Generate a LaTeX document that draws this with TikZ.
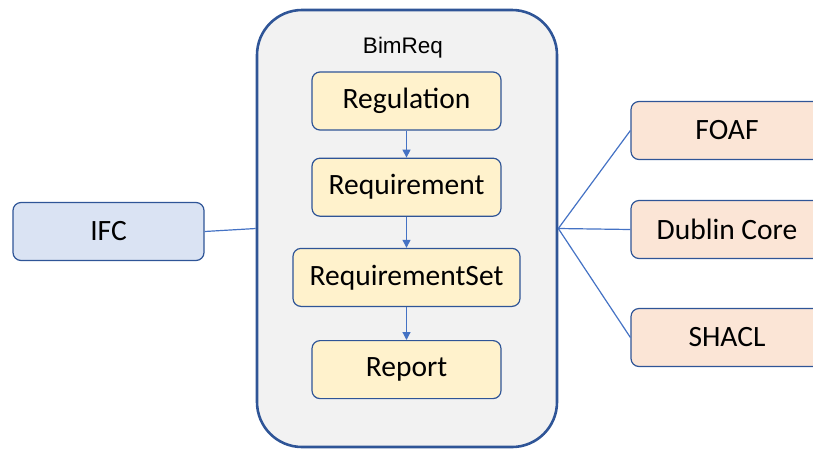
\documentclass[tikz,border=0pt]{standalone}
\usepackage{fontspec}
\setmainfont{Carlito}
\newfontfamily\labelfont{Liberation Sans}
\usetikzlibrary{positioning,arrows.meta}
\definecolor{edgeblue}{HTML}{4472C4}
\definecolor{darkblue}{HTML}{2F5597}
\definecolor{boxyellow}{HTML}{FFF2CC}
\definecolor{boxblue}{HTML}{DAE3F3}
\definecolor{boxorange}{HTML}{FBE5D6}
\tikzset{
  box/.style={draw=darkblue, line width=1.2pt, rounded corners=8pt,
    minimum height=58pt, font=\fontsize{29.5}{29.5}\selectfont},
  cls/.style={box, fill=boxyellow, minimum width=189pt},
  ext/.style={box, fill=boxorange, minimum width=192pt},
  link/.style={draw=edgeblue, line width=1.2pt},
  flow/.style={link, -{Triangle[width=8pt,length=8pt]}},
}

\begin{document}
\begin{tikzpicture}[x=1pt,y=-1pt]
\clip (0,0) rectangle (813,448);
\node[draw=darkblue, line width=2.6pt, fill=black!5, rounded corners=45pt,
  minimum width=300pt, minimum height=437pt] (bimreq) at (407,228.5) {};
\node[font=\labelfont\fontsize{22.5}{22.5}\selectfont] (title) at (403,48) {BimReq};
\node[cls] (reg) at (406.5,101) {Regulation};
\node[cls, below=27pt of reg] (req) {Requirement};
\node[cls, minimum width=227pt, below=31pt of req] (reqset) {RequirementSet};
\node[cls, below=33pt of reqset] (report) {Report};
\node[box, fill=boxblue, minimum width=191pt] (ifc) at (108.5,231.5) {IFC};
\node[ext] (foaf) at (727,130.5) {FOAF};
\node[ext] (dc) at (727,229.5) {Dublin Core};
\node[ext] (shacl) at (727,337.5) {SHACL};
\coordinate (hub) at (bimreq.east);

\draw[flow] (reg) -- (req);
\draw[flow] (req) -- (reqset);
\draw[flow] (reqset) -- (report);
\draw[link] (ifc.east) -- (bimreq.west);
\draw[link] (hub) -- (foaf.west);
\draw[link] (hub) -- (dc.west);
\draw[link] (hub) -- (shacl.west);
\end{tikzpicture}
\end{document}
